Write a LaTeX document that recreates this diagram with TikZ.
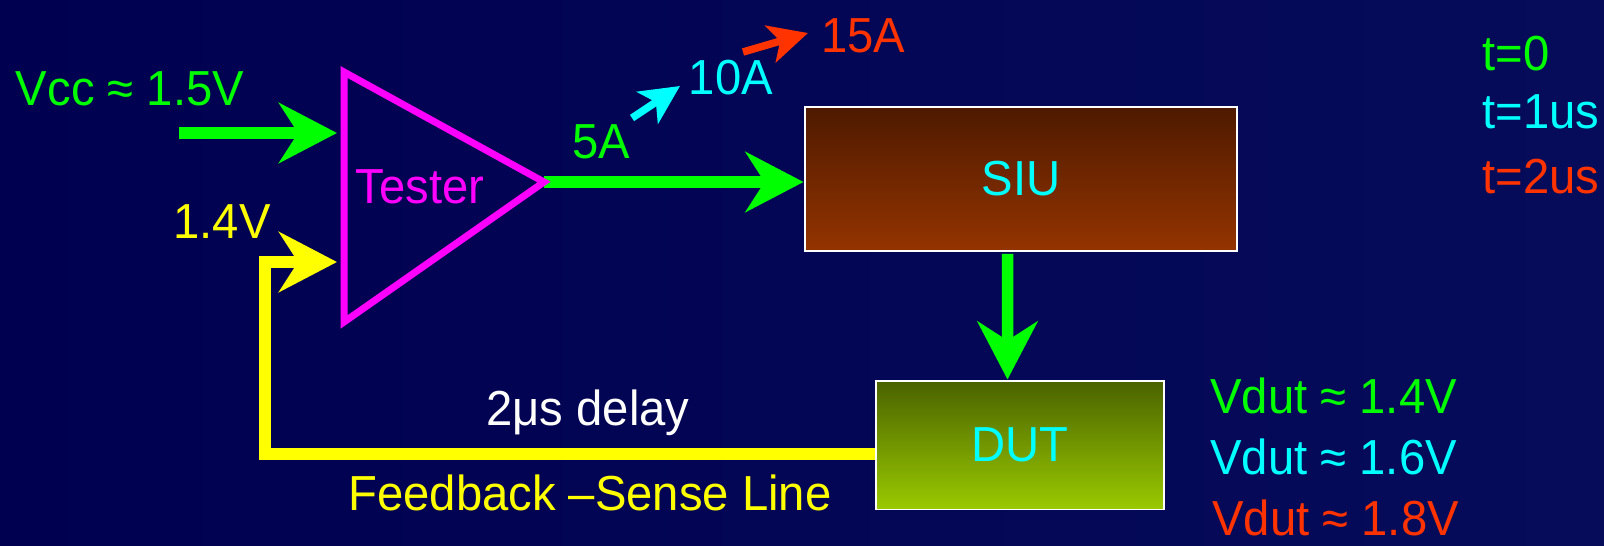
\documentclass[tikz,border=0pt]{standalone}
\usepackage{fontspec}
\setmainfont[FakeStretch=0.96]{Liberation Sans}
\usepackage{tikz}
\usetikzlibrary{arrows.meta, positioning, calc}
\definecolor{slidebg}{RGB}{0, 0, 80}
\definecolor{slidebgright}{RGB}{6, 12, 90}
\definecolor{signalgreen}{RGB}{0, 255, 0}
\definecolor{signalcyan}{RGB}{0, 255, 255}
\definecolor{signalred}{RGB}{255, 51, 0}
\definecolor{senseyellow}{RGB}{255, 255, 0}
\definecolor{testermagenta}{RGB}{255, 0, 255}
\definecolor{siutop}{RGB}{78, 26, 0}
\definecolor{siubottom}{RGB}{148, 52, 0}
\definecolor{duttop}{RGB}{74, 98, 0}
\definecolor{dutbottom}{RGB}{154, 202, 0}

\begin{document}
\begin{tikzpicture}[
    x=0.02cm, y=-0.02cm,
    txt/.style={font=\fontsize{28}{34}\selectfont, inner sep=0pt, anchor=base},
    block/.style={rectangle, draw=white, line width=0.04cm, font=\fontsize{28}{34}\selectfont, text=signalcyan},
    bigarrow/.style={-{Stealth[length=1.16cm, width=1.2cm, inset=0.38cm]}, line width=0.23cm, signalgreen},
    steparrow/.style={-{Stealth[length=0.78cm, width=0.76cm, inset=0.2cm]}, line width=0.15cm}
]
% Slide background
\useasboundingbox (0,0) rectangle (1604,545);
\fill[left color=slidebg, right color=slidebgright] (0,0) rectangle (1604,545);

% Tester corners and inputs
\coordinate (ttop) at (344,72);
\coordinate (tbot) at (344,322);
\coordinate (tapex) at (544,182);
\coordinate (vccsrc) at (179,133);
\coordinate (tin1) at (337,133);
\coordinate (tin2) at (337,262);

% Blocks
\node[block, minimum width=8.66cm, minimum height=2.88cm, top color=siutop, bottom color=siubottom] (siu) at (1021,179) {SIU};
\node[block, minimum width=5.78cm, minimum height=2.58cm, top color=duttop, bottom color=dutbottom] (dut) at (1020,445) {DUT};

% Supply and drive current
\draw[bigarrow] (vccsrc) -- (tin1);
\draw[bigarrow] (tapex) -- (tapex -| siu.west);
\draw[bigarrow] ([xshift=-0.27cm,yshift=-0.04cm]siu.south) -- ([xshift=-0.25cm]dut.north);

% Feedback sense line
\draw[-{Stealth[length=1.16cm, width=1.2cm, inset=0.38cm]}, line width=0.24cm, line join=miter, senseyellow]
    ([yshift=-0.17cm]dut.west) -| ([xshift=-1.44cm]tin2) -- (tin2);

% Tester amplifier
\draw[testermagenta, line width=0.14cm, line join=miter] (ttop) -- (tapex) -- (tbot) -- cycle;
\node[txt, text=testermagenta] (tester) at (420,203) {Tester};

% Labels
\node[txt, text=signalgreen] (vcc) at (130,105) {Vcc ≈ 1.5V};
\node[txt, text=senseyellow] (vsense) at (222,238) {1.4V};
\node[txt, text=white] (delay) at (588,425) {2μs delay};
\node[txt, text=senseyellow] (fbname) at (590,510) {Feedback –Sense Line};

% Current steps
\node[txt, text=signalgreen] (i5) at (601,158) {5A};
\node[txt, text=signalcyan] (i10) at (731,94) {10A};
\node[txt, text=signalred] (i15) at (863,52) {15A};
\coordinate (up1a) at (632,118);
\coordinate (up1b) at (680,86);
\coordinate (up2a) at (743,52);
\coordinate (up2b) at (808,33);
\draw[steparrow, signalcyan] (up1a) -- (up1b);
\draw[steparrow, signalred] (up2a) -- (up2b);

% Time legend
\node[txt, anchor=base west, text=signalgreen] (t0) at (1482,70) {t=0};
\node[txt, anchor=base west, text=signalcyan] (t1) at (1482,128) {t=1us};
\node[txt, anchor=base west, text=signalred] (t2) at (1482,193) {t=2us};

% DUT voltages
\node[txt, anchor=base west, text=signalgreen] (vd0) at (1210,413) {Vdut ≈ 1.4V};
\node[txt, anchor=base west, text=signalcyan] (vd1) at (1210,474) {Vdut ≈ 1.6V};
\node[txt, anchor=base west, text=signalred] (vd2) at (1212,535) {Vdut ≈ 1.8V};
\end{tikzpicture}
\end{document}
